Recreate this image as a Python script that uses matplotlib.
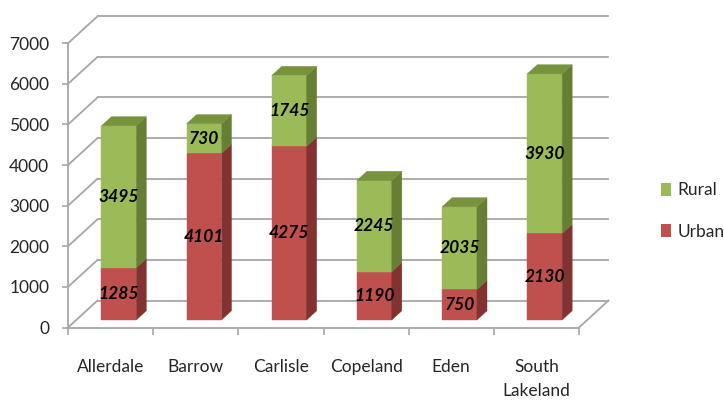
import matplotlib
matplotlib.use("Agg")
import matplotlib.pyplot as plt
from matplotlib.patches import Polygon, Patch
import numpy as np

categories = ["Allerdale", "Barrow", "Carlisle", "Copeland", "Eden", "South\nLakeland"]
urban = [1285, 4101, 4275, 1190, 750, 2130]
rural = [3495, 730, 1745, 2245, 2035, 3930]
yticks = [0, 1000, 2000, 3000, 4000, 5000, 6000, 7000]
series_names = ["Urban", "Rural"]

W, H, DPI = 724, 403, 100
FONT = "Lato"
plt.rcParams["font.family"] = [FONT, "DejaVu Sans"]

fig = plt.figure(figsize=(W / DPI, H / DPI), dpi=DPI)
# front plane of the 3D box in pixels
left_px, right_px, bottom_px, top_px = 68, 579, 327.5, 43.3
ax = fig.add_axes([left_px / W, 1 - bottom_px / H,
                   (right_px - left_px) / W, (bottom_px - top_px) / H])
n = len(categories)
ymax = yticks[-1]
ax.set_xlim(0, n)
ax.set_ylim(0, ymax)

# depth vector (pixels) converted to data units
DEPTH_PX = (29.5, 27.0)
ppx = (right_px - left_px) / n
ppy = (bottom_px - top_px) / ymax
ddx, ddy = DEPTH_PX[0] / ppx, DEPTH_PX[1] / ppy

grid_c = "#a6a6a6"
glw = 1.3
# back wall gridlines + left wall diagonals
for v in yticks:
    ax.plot([ddx, n + ddx], [v + ddy, v + ddy], color=grid_c, lw=glw, clip_on=False, zorder=1)
    ax.plot([0, ddx], [v, v + ddy], color=grid_c, lw=glw, clip_on=False, zorder=1)
# floor front and right edges, y axis line
ax.plot([0, n], [0, 0], color=grid_c, lw=glw, clip_on=False, zorder=1)
ax.plot([n, n + ddx], [0, ddy], color=grid_c, lw=glw, clip_on=False, zorder=1)
ax.plot([0, 0], [0, ymax], color=grid_c, lw=glw, clip_on=False, zorder=1)

# bars
f1, f2 = 0.28, 0.62
bw = 0.41
front_cols = {"Urban": "#c0504d", "Rural": "#9bbb59"}
side_cols = {"Urban": "#823331", "Rural": "#677f35"}
top_cols = {"Urban": "#9a3e3b", "Rural": "#77933c"}

x = np.arange(n) + 0.5 + f1 * ddx
base0 = f1 * ddy
sdx, sdy = (f2 - f1) * ddx, (f2 - f1) * ddy
stacks = [np.array(urban, float), np.array(rural, float)]
bottoms = np.zeros(n)
for si, (name, vals) in enumerate(zip(series_names, stacks)):
    bars = ax.bar(x, vals, width=bw, bottom=base0 + bottoms, color=front_cols[name],
                  edgecolor=front_cols[name], lw=0.3, clip_on=False, zorder=3 + si)
    for i, b in enumerate(bars):
        x1 = b.get_x() + b.get_width()
        x0 = b.get_x()
        y0 = b.get_y()
        y1 = y0 + b.get_height()
        side = Polygon([[x1, y0], [x1 + sdx, y0 + sdy], [x1 + sdx, y1 + sdy], [x1, y1]],
                       closed=True, facecolor=side_cols[name], edgecolor=side_cols[name],
                       lw=0.3, clip_on=False, zorder=3 + si)
        ax.add_patch(side)
        if si == len(stacks) - 1:
            top = Polygon([[x0, y1], [x1, y1], [x1 + sdx, y1 + sdy], [x0 + sdx, y1 + sdy]],
                          closed=True, facecolor=top_cols[name], edgecolor=top_cols[name],
                          lw=0.3, clip_on=False, zorder=3 + si)
            ax.add_patch(top)
        ax.text(b.get_x() + b.get_width() / 2, (y0 + y1) / 2, f"{int(vals[i])}",
                ha="center", va="center", fontsize=12.5, fontweight="bold",
                fontstyle="italic", color="black", zorder=10)
    bottoms = bottoms + vals

for s in ax.spines.values():
    s.set_visible(False)
ax.set_yticks(yticks)
ax.set_yticklabels([str(v) for v in yticks])
ax.tick_params(axis="y", direction="out", length=4.5, width=1.2, color=grid_c,
               pad=9, labelsize=12.5, labelcolor="#262626")
ax.set_xticks(np.arange(n + 1))
ax.set_xticklabels([])
ax.tick_params(axis="x", which="major", direction="out", length=5, width=1.2, color=grid_c)
ax.set_xticks(np.arange(n) + 0.5, minor=True)
ax.set_xticklabels(categories, minor=True, fontsize=12.5, color="#262626", linespacing=1.6)
ax.tick_params(axis="x", which="minor", length=0, pad=23)

handles = [Patch(facecolor=front_cols["Rural"], edgecolor="none"),
           Patch(facecolor=front_cols["Urban"], edgecolor="none")]
fig.legend(handles, ["Rural", "Urban"], loc="center left",
           bbox_to_anchor=(661 / W, 1 - 211 / H), frameon=False, fontsize=12.5,
           handlelength=0.6, handleheight=0.8, handletextpad=0.35, labelspacing=1.45,
           borderpad=0, borderaxespad=0, labelcolor="#262626")

fig.savefig("out.png", dpi=DPI)
